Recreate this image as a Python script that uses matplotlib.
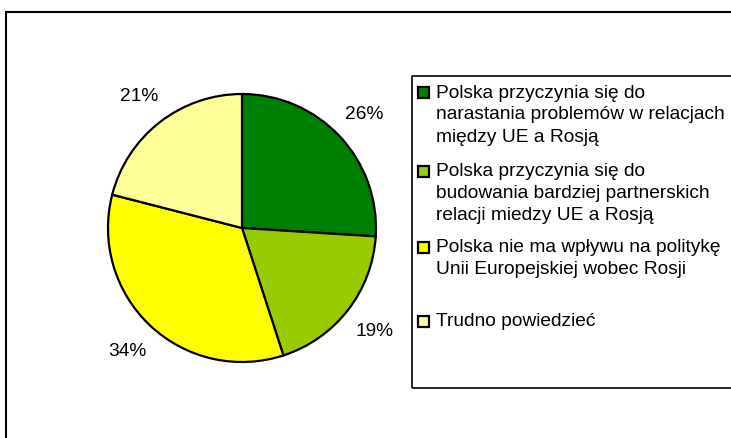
import matplotlib.pyplot as plt
from matplotlib.patches import Rectangle

plt.rcParams['font.family'] = ['Liberation Sans', 'DejaVu Sans']

# dane
labels = ['Polska przyczynia się do\nnarastania problemów w relacjach\nmiędzy UE a Rosją',
          'Polska przyczynia się do\nbudowania bardziej partnerskich\nrelacji miedzy UE a Rosją',
          'Polska nie ma wpływu na politykę\nUnii Europejskiej wobec Rosji',
          'Trudno powiedzieć']
values = [26, 19, 34, 21]
colors = ['#008000', '#99CC00', '#FFFF00', '#FFFF99']

W, H = 731, 439
fig = plt.figure(figsize=(W / 100, H / 100), dpi=100)

# ramka wykresu
fig.patches.append(Rectangle((6 / W, -0.1), 1.2, (H - 13) / H + 0.1, transform=fig.transFigure,
                             fill=False, edgecolor='black', linewidth=1.5))

# wykres kołowy
cx, cy = 242, H - 229
ax = fig.add_axes([(cx - 150) / W, (cy - 150) / H, 300 / W, 300 / H])
ax.pie(values, colors=colors, startangle=90, counterclock=False, radius=1.34,
       autopct='%1.0f%%', pctdistance=1.25,
       wedgeprops=dict(edgecolor='black', linewidth=1.6),
       textprops=dict(fontsize=13.8, color='black'))
ax.set_xlim(-1.5, 1.5)
ax.set_ylim(-1.5, 1.5)
ax.set_aspect('equal')
ax.axis('off')

# legenda
fig.patches.append(Rectangle((412 / W, (H - 389) / H), 1.0, (389 - 77) / H, transform=fig.transFigure,
                             fill=False, edgecolor='black', linewidth=1.2))
entry_y = [93, 172, 248, 322]
for lab, col, y in zip(labels, colors, entry_y):
    fig.patches.append(Rectangle((418 / W, (H - y - 5.5) / H), 11 / W, 11 / H, transform=fig.transFigure,
                                 facecolor=col, edgecolor='black', linewidth=1.6))
    for i, line in enumerate(lab.split('\n')):
        fig.text(436 / W, (H - y - 22 * i) / H, line, fontsize=13.8, va='center', ha='left')

fig.savefig('out.png', dpi=100)
